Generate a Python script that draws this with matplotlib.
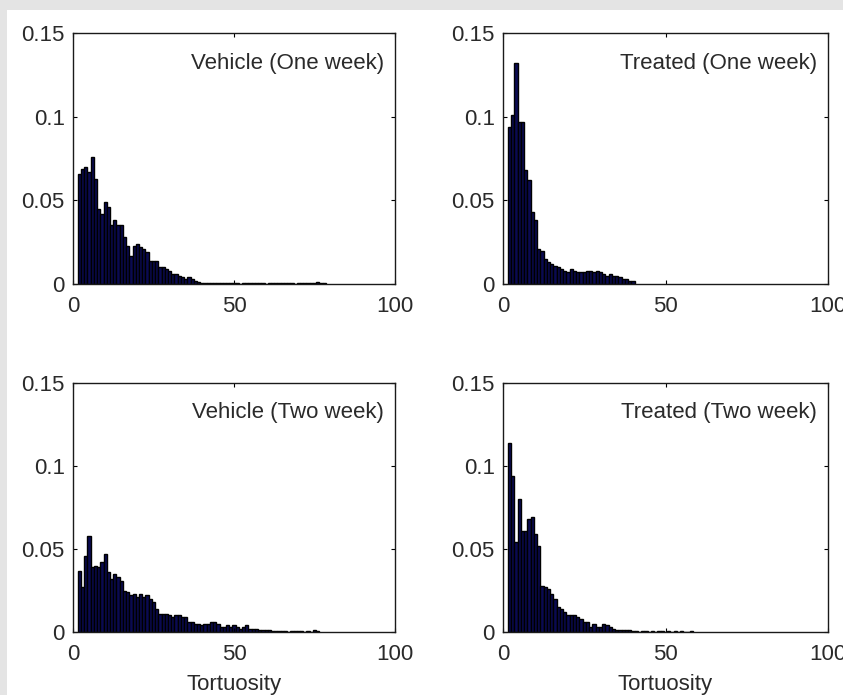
import numpy as np
import matplotlib.pyplot as plt
from matplotlib.patches import Rectangle

plt.rcParams['font.family'] = ['Liberation Sans', 'DejaVu Sans']

# histogram heights, bins of width 1 starting at tortuosity = 2
veh1 = [0.066, 0.069, 0.070, 0.067, 0.076, 0.063, 0.045, 0.042, 0.049, 0.046,
        0.035, 0.038, 0.035, 0.035, 0.028, 0.023, 0.017, 0.023, 0.024, 0.022,
        0.021, 0.019, 0.014, 0.014, 0.014, 0.010, 0.010, 0.009, 0.008, 0.006,
        0.006, 0.005, 0.004, 0.003, 0.004, 0.003, 0.002,
        0.001, 0.0008, 0.0006, 0.0006, 0.0005, 0.0006, 0.0005, 0.0006, 0.0005, 0.0006,
        0.0005, 0.0006, 0.0005, 0.0, 0.0006, 0.0005, 0.0006, 0.0005, 0.0006, 0.0005,
        0.0006, 0.0, 0.0006, 0.0005, 0.0006, 0.0005, 0.0006, 0.0008, 0.0006, 0.0005,
        0.0, 0.0006, 0.0005, 0.0008, 0.0006, 0.0005, 0.0006, 0.001, 0.0006, 0.0005]

trt1 = [0.094, 0.101, 0.132, 0.097, 0.097, 0.068, 0.062, 0.043, 0.038, 0.021,
        0.020, 0.015, 0.013, 0.012, 0.011, 0.010, 0.009, 0.008, 0.007, 0.009,
        0.008, 0.007, 0.007, 0.007, 0.008, 0.008, 0.007, 0.008, 0.007, 0.006,
        0.005, 0.006, 0.005, 0.005, 0.004, 0.003, 0.003, 0.002, 0.002]

veh2 = [0.037, 0.027, 0.046, 0.058, 0.039, 0.040, 0.039, 0.042, 0.047, 0.036,
        0.032, 0.035, 0.033, 0.031, 0.025, 0.024, 0.022, 0.023, 0.021, 0.023,
        0.021, 0.022, 0.020, 0.018, 0.014, 0.011, 0.011, 0.011, 0.010, 0.009,
        0.010, 0.010, 0.009, 0.009, 0.006, 0.006, 0.005, 0.005, 0.004, 0.005,
        0.005, 0.006, 0.006, 0.005, 0.003, 0.003, 0.004, 0.003, 0.004, 0.003,
        0.002, 0.003, 0.004, 0.002, 0.002, 0.002, 0.001, 0.001, 0.001, 0.001,
        0.0008, 0.0008, 0.0006, 0.0008, 0.0006, 0.0, 0.0006, 0.0006, 0.0008, 0.0006,
        0.0, 0.0005, 0.0, 0.0012, 0.0005]

trt2 = [0.114, 0.094, 0.054, 0.080, 0.061, 0.061, 0.068, 0.069, 0.059, 0.052,
        0.028, 0.027, 0.026, 0.023, 0.020, 0.015, 0.014, 0.012, 0.010, 0.010,
        0.010, 0.009, 0.008, 0.006, 0.006, 0.003, 0.005, 0.003, 0.003, 0.005,
        0.004, 0.003, 0.002, 0.001, 0.001, 0.001, 0.001, 0.001, 0.0008, 0.0008,
        0.0, 0.0006, 0.0008, 0.0, 0.0006, 0.0, 0.0008, 0.0006, 0.0, 0.0006,
        0.0, 0.0006, 0.0, 0.0006, 0.0, 0.0, 0.0006]

titles = ["Vehicle (One week)", "Treated (One week)",
          "Vehicle (Two week)", "Treated (Two week)"]
series = [veh1, trt1, veh2, trt2]
bin_start = 2

W, H = 843, 695
fig = plt.figure(figsize=(W / 100, H / 100), dpi=100, facecolor='#e4e4e4')
fig.patches.append(Rectangle((7 / W, 0), 1, (H - 10) / H, transform=fig.transFigure,
                             facecolor='white', edgecolor='none', zorder=-1))

# axes boxes in pixels: left, right, top, bottom
boxes = [(73, 395, 33, 284), (503, 828, 33, 284),
         (73, 395, 383, 632), (503, 828, 383, 632)]

fs = 16
txtcol = '#2a2a2a'
for i, (l, r, t, b) in enumerate(boxes):
    ax = fig.add_axes([l / W, (H - b) / H, (r - l) / W, (b - t) / H])
    vals = series[i]
    x = np.arange(bin_start, bin_start + len(vals))
    ax.bar(x, vals, width=1.0, color='#0a0a52', edgecolor='black', linewidth=1.0)
    ax.set_xlim(0, 100)
    ax.set_ylim(0, 0.15)
    ax.set_xticks([0, 50, 100])
    ax.set_xticklabels(["0", "50", "100"])
    ax.set_yticks([0, 0.05, 0.1, 0.15])
    ax.set_yticklabels(["0", "0.05", "0.1", "0.15"])
    ax.tick_params(direction='in', length=3, width=0.8, top=True, right=True,
                   labelsize=fs, labelcolor=txtcol)
    ax.tick_params(axis='x', pad=9)
    ax.tick_params(axis='y', pad=6)
    for s in ax.spines.values():
        s.set_linewidth(1.0)
        s.set_color('#1a1a1a')
    ax.text(0.965, 0.88, titles[i], transform=ax.transAxes, ha='right', va='center',
            fontsize=fs, color=txtcol)
    if i >= 2:
        ax.set_xlabel("Tortuosity", fontsize=fs, color=txtcol, labelpad=6)

fig.savefig("out.png", dpi=100, facecolor=fig.get_facecolor())
